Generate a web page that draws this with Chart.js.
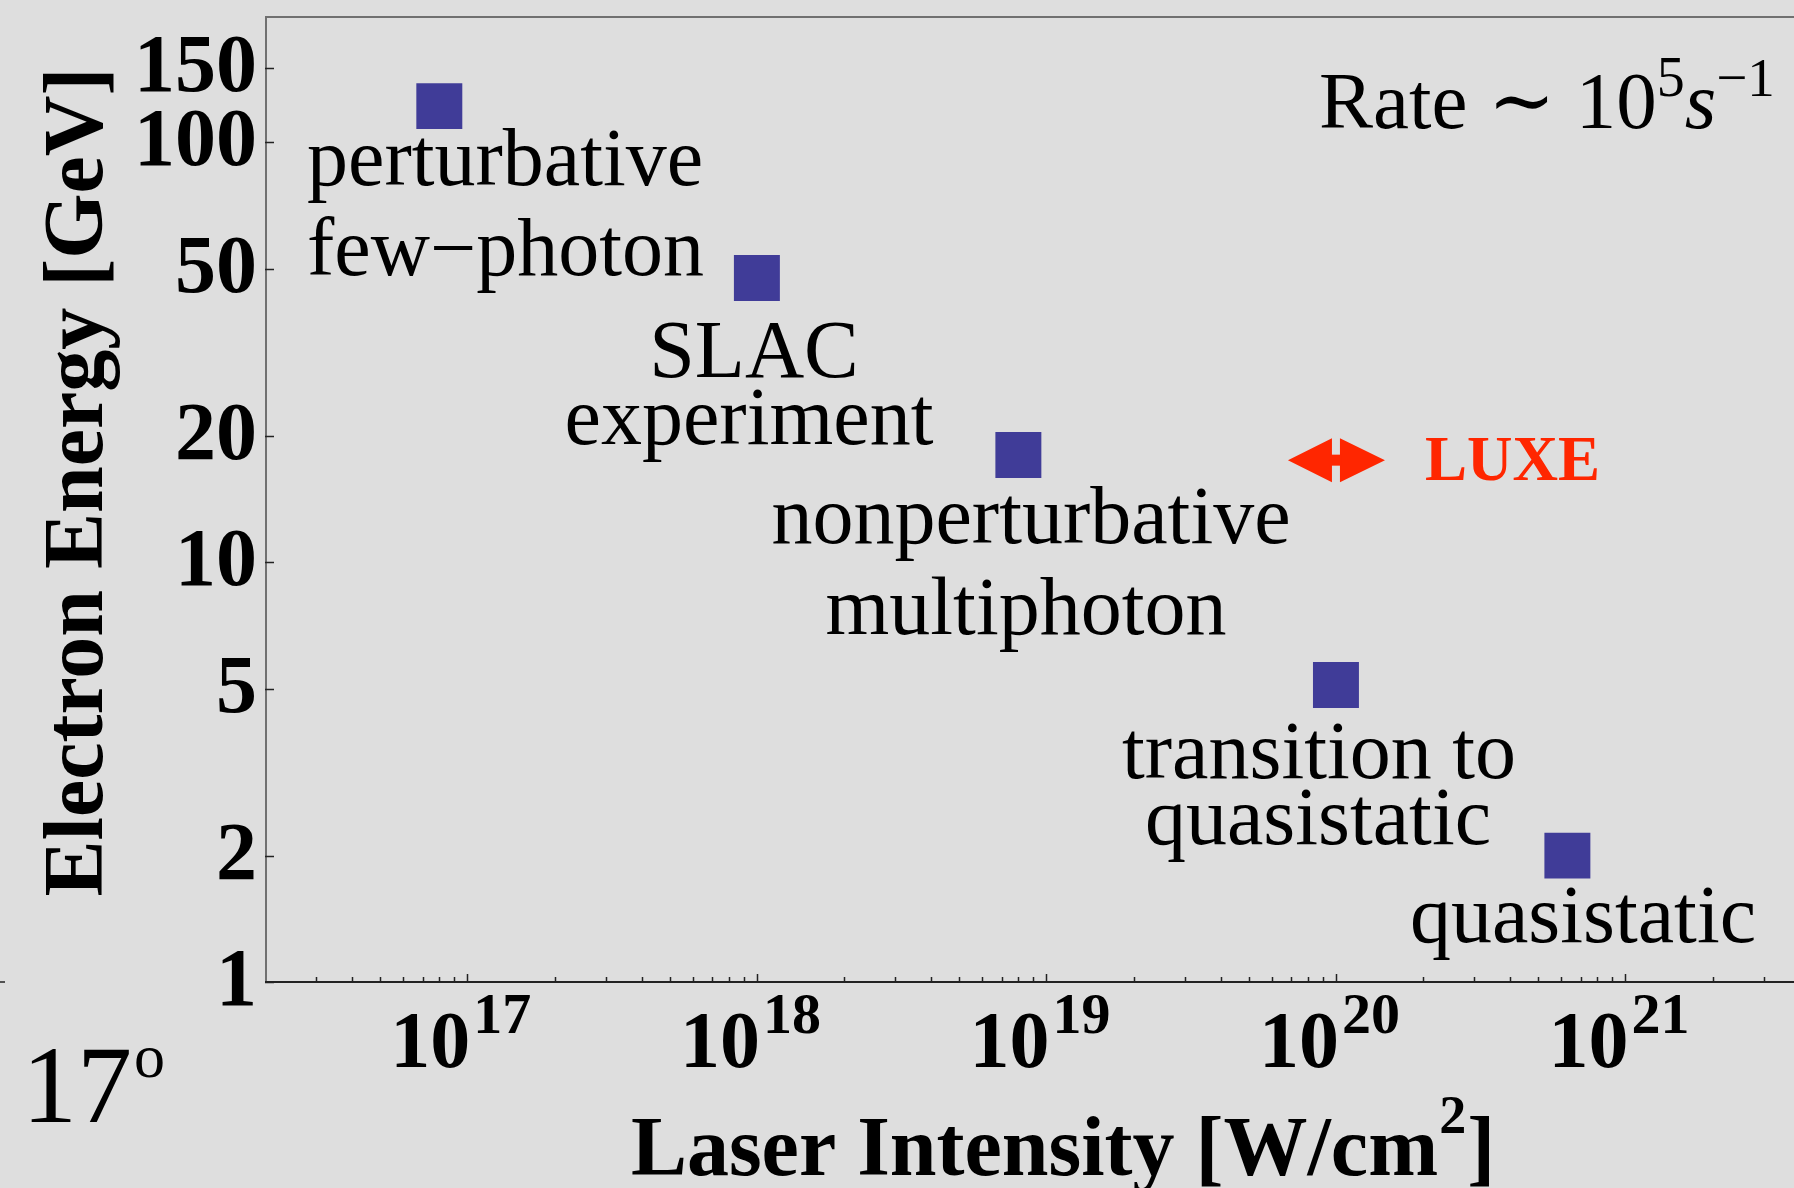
<!DOCTYPE html>
<html>
<head>
<meta charset="utf-8">
<script src="https://cdn.jsdelivr.net/npm/chart.js@4"></script>
<style>
  html, body { margin: 0; padding: 0; background: #dedede; }
  #wrap { width: 1794px; height: 1188px; }
</style>
</head>
<body>
<div id="wrap"><canvas id="chart" width="1794" height="1188"></canvas></div>
<script>
// Laser intensity [W/cm^2] and electron energy [GeV] of each regime marker
const intensities = [8e16, 1e18, 8e18, 1e20, 6.3e20];
const energies = [122, 47.5, 18, 5.1, 2];

// LUXE operating point (shown as a red double arrow)
const luxeIntensity = 1e20;
const luxeEnergy = 17.5;

// axis ranges and tick values
const xRange = [2e16, 3.82e21];
const yRange = [1, 200];
const xDecades = [17, 18, 19, 20, 21];
const yTicks = [1, 2, 5, 10, 20, 50, 100, 150];

// regime names, one entry per text block
const regimeLines = [
  ["perturbative", "few\u2212photon"],
  ["SLAC", "experiment"],
  ["nonperturbative", "multiphoton"],
  ["transition to", "quasistatic"],
  ["quasistatic"]
];

const SERIF = '"Liberation Serif", "DejaVu Serif", serif';
const INK = '#000000';
const BG = '#dedede';

// where each text line sits: [x, baseline, align]
const lineSpots = [
  [[307, 185, 'left'], [307, 275, 'left']],
  [[754, 377, 'center'], [749, 444, 'center']],
  [[1031, 543, 'center'], [1026, 634, 'center']],
  [[1319, 778, 'center'], [1318, 844, 'center']],
  [[1583, 942, 'center']]
];

const frame = {
  id: 'frame',
  beforeDraw(chart) {
    const ctx = chart.ctx;
    ctx.save();
    ctx.fillStyle = BG;
    ctx.fillRect(0, 0, chart.width, chart.height);
    ctx.restore();
  },
  beforeDatasetsDraw(chart) {
    const ctx = chart.ctx;
    const a = chart.chartArea;
    const xs = chart.scales.x, ys = chart.scales.y;
    ctx.save();

    // top and left frame lines
    ctx.strokeStyle = '#707070';
    ctx.lineWidth = 2;
    ctx.beginPath();
    ctx.moveTo(a.left, a.top + 1);
    ctx.lineTo(chart.width, a.top + 1);
    ctx.moveTo(a.left + 1, a.top);
    ctx.lineTo(a.left + 1, a.bottom);
    ctx.stroke();

    // bottom axis
    ctx.strokeStyle = '#222222';
    ctx.beginPath();
    ctx.moveTo(a.left, a.bottom);
    ctx.lineTo(chart.width, a.bottom);
    ctx.stroke();

    // x ticks pointing inward
    ctx.lineWidth = 1.5;
    ctx.beginPath();
    for (let e = 16; e <= 21; e++) {
      for (let m = 1; m <= 9; m++) {
        const v = m * Math.pow(10, e);
        if (v <= xRange[0] * 1.001 || v > xRange[1]) continue;
        const px = Math.round(xs.getPixelForValue(v)) + 0.5;
        const len = m === 1 ? 8 : 5;
        ctx.moveTo(px, a.bottom);
        ctx.lineTo(px, a.bottom - len);
      }
    }
    // y ticks
    yTicks.forEach(v => {
      const py = Math.round(ys.getPixelForValue(v)) + 0.5;
      ctx.moveTo(a.left, py);
      ctx.lineTo(a.left + 9, py);
    });
    ctx.stroke();

    // stray tick at the far left edge
    ctx.beginPath();
    ctx.moveTo(0, a.bottom);
    ctx.lineTo(5, a.bottom);
    ctx.stroke();

    // LUXE double arrow
    const cx = xs.getPixelForValue(luxeIntensity);
    const cy = ys.getPixelForValue(luxeEnergy);
    ctx.fillStyle = '#ff2600';
    ctx.beginPath();
    ctx.moveTo(cx - 48, cy);
    ctx.lineTo(cx - 4, cy - 22);
    ctx.lineTo(cx - 4, cy + 22);
    ctx.closePath();
    ctx.moveTo(cx + 49, cy);
    ctx.lineTo(cx + 4, cy - 22);
    ctx.lineTo(cx + 4, cy + 22);
    ctx.closePath();
    ctx.fill();
    ctx.fillRect(cx - 6, cy - 5.5, 12, 11);

    ctx.restore();
  },
  afterDraw(chart) {
    const ctx = chart.ctx;
    const a = chart.chartArea;
    const xs = chart.scales.x, ys = chart.scales.y;
    ctx.save();
    ctx.fillStyle = INK;
    ctx.textBaseline = 'alphabetic';

    // y tick labels
    ctx.font = 'bold 82px ' + SERIF;
    ctx.textAlign = 'right';
    yTicks.forEach(v => {
      ctx.fillText(String(v), a.left - 8, ys.getPixelForValue(v) + 23);
    });

    // x tick labels: 10 with a raised exponent
    xDecades.forEach(e => {
      const px = xs.getPixelForValue(Math.pow(10, e));
      ctx.font = 'bold 80px ' + SERIF;
      ctx.textAlign = 'right';
      ctx.fillText('10', px + 3, 1067);
      ctx.font = 'bold 58px ' + SERIF;
      ctx.textAlign = 'left';
      ctx.fillText(String(e), px + 6, 1033);
    });

    // x title with a raised 2
    ctx.textAlign = 'left';
    const big = 'bold 84px ' + SERIF, sup = 'bold 54px ' + SERIF;
    ctx.font = big;
    const w1 = ctx.measureText('Laser Intensity [W/cm').width;
    const w3 = ctx.measureText(']').width;
    ctx.font = sup;
    const w2 = ctx.measureText('2').width;
    let tx = 1063 - (w1 + w2 + 2 + w3) / 2;
    ctx.font = big;
    ctx.fillText('Laser Intensity [W/cm', tx, 1175);
    ctx.font = sup;
    ctx.fillText('2', tx + w1 + 1, 1133);
    ctx.font = big;
    ctx.fillText(']', tx + w1 + w2 + 2, 1175);

    // y title
    ctx.textAlign = 'center';
    ctx.save();
    ctx.translate(102, 482);
    ctx.rotate(-Math.PI / 2);
    ctx.fillText('Electron Energy [GeV]', 0, 0);
    ctx.restore();

    // regime names
    ctx.font = '82px ' + SERIF;
    regimeLines.forEach((lines, i) => {
      lines.forEach((t, j) => {
        const s = lineSpots[i][j];
        ctx.textAlign = s[2];
        ctx.fillText(t, s[0], s[1]);
      });
    });

    // rate note: Rate ~ 10^5 s^-1
    ctx.textAlign = 'left';
    let x = 1319;
    const put = (t, font, dy) => {
      ctx.font = font;
      ctx.fillText(t, x, 128 + dy);
      x += ctx.measureText(t).width;
    };
    put('Rate \u223c 10', '81px ' + SERIF, 0);
    put('5', '56px ' + SERIF, -32);
    put('s', 'italic 81px ' + SERIF, 0);
    put('\u22121', '55px ' + SERIF, -32);

    // LUXE label
    const cx = xs.getPixelForValue(luxeIntensity);
    const cy = ys.getPixelForValue(luxeEnergy);
    ctx.fillStyle = '#ff2600';
    ctx.font = 'bold 63px ' + SERIF;
    ctx.fillText('LUXE', cx + 89, cy + 20);

    // angle note in the lower left
    ctx.fillStyle = INK;
    ctx.font = '110px ' + SERIF;
    ctx.fillText('17', 22, 1122);
    const w = ctx.measureText('17').width;
    ctx.font = '62px ' + SERIF;
    ctx.fillText('o', 22 + w + 2, 1077);

    ctx.restore();
  }
};

new Chart(document.getElementById('chart'), {
  type: 'scatter',
  plugins: [frame],
  data: {
    datasets: [{
      data: intensities.map((v, i) => ({ x: v, y: energies[i] })),
      pointStyle: 'rect',
      pointRadius: 32.5,
      pointHoverRadius: 32.5,
      backgroundColor: '#403c98',
      borderWidth: 0
    }]
  },
  options: {
    responsive: false,
    animation: false,
    events: [],
    devicePixelRatio: 1,
    layout: { autoPadding: false, padding: { top: 16, right: 0, left: 0, bottom: 0 } },
    plugins: { legend: { display: false }, tooltip: { enabled: false } },
    scales: {
      x: {
        type: 'logarithmic',
        min: xRange[0],
        max: xRange[1],
        ticks: { display: false },
        grid: { display: false },
        border: { display: false },
        afterFit: s => { s.height = 206; }
      },
      y: {
        type: 'logarithmic',
        min: yRange[0],
        max: yRange[1],
        ticks: { display: false },
        grid: { display: false },
        border: { display: false },
        afterFit: s => { s.width = 265; }
      }
    }
  }
});
</script>
</body>
</html>
